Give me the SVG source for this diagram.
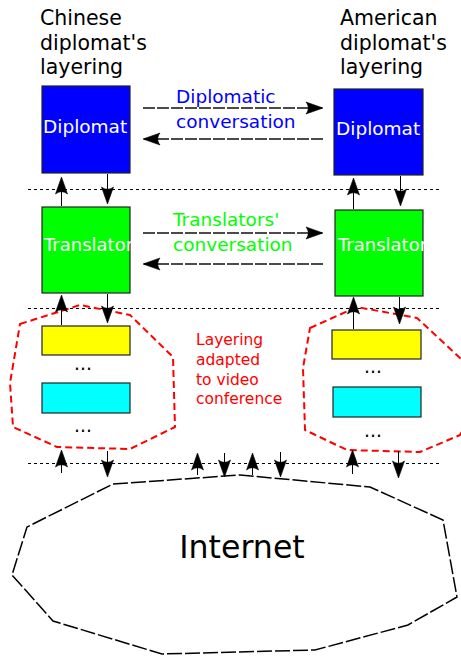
<svg xmlns="http://www.w3.org/2000/svg" width="461" height="657" viewBox="0 0 461 657">
<style>
text{font-family:"DejaVu Sans","Liberation Sans",sans-serif}
.title{font-size:20.5px;fill:#000}
.box{stroke:#222;stroke-width:1.2}
.lbl{font-size:18.5px;fill:#fff}
.dots{font-size:18.7px;fill:#000}
.sep{stroke:#000;stroke-width:1;stroke-dasharray:3,3;fill:none}
.conv{stroke:#111;stroke-width:1.3;stroke-dasharray:12,2;fill:none;marker-end:url(#ah)}
.v{stroke:#000;stroke-width:1;fill:none;marker-end:url(#ah)}
.red{stroke:#ff0000;stroke-width:2;stroke-dasharray:7,4;fill:none;stroke-linejoin:round}
</style>
<defs>
<marker id="ah" markerUnits="userSpaceOnUse" viewBox="-18 -8 20 16" markerWidth="20" markerHeight="16" refX="0" refY="0" orient="auto" preserveAspectRatio="none">
<path d="M1,0 L-16,-6 C-13,-2 -13,2 -16,6 Z" fill="#000" stroke="#000" stroke-width="0.6" stroke-linejoin="round"/>
</marker>
<clipPath id="c1"><rect x="42" y="86" width="89" height="87"/></clipPath>
<clipPath id="c2"><rect x="334" y="89" width="90" height="86"/></clipPath>
<clipPath id="c3"><rect x="42" y="207" width="89" height="86"/></clipPath>
<clipPath id="c4"><rect x="335" y="210" width="89" height="86"/></clipPath>
</defs>

<g id="titles">
<text class="title" x="40" y="25">Chinese</text>
<text class="title" x="40" y="49.5">diplomat's</text>
<text class="title" x="40" y="74">layering</text>
<text class="title" x="340" y="25">American</text>
<text class="title" x="340" y="49.5">diplomat's</text>
<text class="title" x="340" y="74">layering</text>
</g>

<g id="separators">
<line class="sep" x1="28" y1="189.5" x2="440" y2="189.5"/>
<line class="sep" x1="28" y1="308.5" x2="440" y2="308.5"/>
<line class="sep" x1="28" y1="463.5" x2="440" y2="463.5"/>
</g>

<g id="video-conf-left">
<polygon class="red" points="20,324 80,305 130,315 173,357 175,427 130,449 57,447 13,427 10,383"/>
</g>
<g id="video-conf-right">
<polygon class="red" points="310,328 357,307 417,318 460,358 478,400 460,435 420,452 347,450 305,430 303,368"/>
</g>
<g id="video-conf-label">
<text x="196" y="345" font-size="15.5" fill="#ff0000">Layering</text>
<text x="196" y="365" font-size="15.5" fill="#ff0000">adapted</text>
<text x="196" y="384.5" font-size="15.5" fill="#ff0000">to video</text>
<text x="196" y="404" font-size="15.5" fill="#ff0000">conference</text>
</g>

<g id="cn-diplomat">
<rect class="box" x="42" y="86" width="88" height="87" fill="#0000ff"/>
<text class="lbl" x="43" y="133" clip-path="url(#c1)">Diplomat</text>
</g>
<g id="us-diplomat">
<rect class="box" x="334" y="89" width="89" height="86" fill="#0000ff"/>
<text class="lbl" x="336" y="135" clip-path="url(#c2)">Diplomat</text>
</g>
<g id="cn-translator">
<rect class="box" x="42" y="207" width="88" height="86" fill="#00ff00"/>
<text class="lbl" x="44" y="251" style="font-size:18px" clip-path="url(#c3)">Translator</text>
</g>
<g id="us-translator">
<rect class="box" x="335" y="210" width="88" height="86" fill="#00ff00"/>
<text class="lbl" x="338" y="251" style="font-size:18px" clip-path="url(#c4)">Translator</text>
</g>
<g id="cn-lower">
<rect class="box" x="42" y="326" width="88" height="29" fill="#ffff00"/>
<text class="dots" x="74" y="370">...</text>
<rect class="box" x="42" y="383" width="88" height="30" fill="#00ffff"/>
<text class="dots" x="74" y="432">...</text>
</g>
<g id="us-lower">
<rect class="box" x="332" y="330" width="89" height="29" fill="#ffff00"/>
<text class="dots" x="364" y="373">...</text>
<rect class="box" x="333" y="387" width="88" height="30" fill="#00ffff"/>
<text class="dots" x="364" y="437">...</text>
</g>

<g id="internet">
<polygon points="113,484 240,475 370,487 443,520 457,597 408,625 315,650 162,654 53,621 12,575 27,527" fill="none" stroke="#000" stroke-width="1.5" stroke-dasharray="15,3"/>
<text x="242" y="558" font-size="31.6" text-anchor="middle" fill="#000">Internet</text>
</g>

<g id="conversation-labels">
<text x="176" y="103" font-size="18.5" fill="#0000ff">Diplomatic</text>
<text x="176" y="128" font-size="18.5" fill="#0000ff">conversation</text>
<text x="173" y="226" font-size="18.5" fill="#00ff00">Translators'</text>
<text x="173" y="251" font-size="18.5" fill="#00ff00">conversation</text>
</g>

<g id="connectors">
<line class="conv" x1="143" y1="108" x2="322" y2="108"/>
<line class="conv" x1="323" y1="139" x2="144" y2="139"/>
<line class="conv" x1="143" y1="233" x2="322" y2="233"/>
<line class="conv" x1="323" y1="264" x2="144" y2="264"/>

<line class="v" x1="61.5" y1="206" x2="61.5" y2="178"/>
<line class="v" x1="107.5" y1="174" x2="107.5" y2="203"/>
<line class="v" x1="61.5" y1="325" x2="61.5" y2="296"/>
<line class="v" x1="107.5" y1="294" x2="107.5" y2="322"/>
<line class="v" x1="61.5" y1="473" x2="61.5" y2="451"/>
<line class="v" x1="107.5" y1="451" x2="107.5" y2="476"/>

<line class="v" x1="353.5" y1="209" x2="353.5" y2="179"/>
<line class="v" x1="400.5" y1="176" x2="400.5" y2="205"/>
<line class="v" x1="353.5" y1="329" x2="353.5" y2="298"/>
<line class="v" x1="399.5" y1="297" x2="399.5" y2="323"/>
<line class="v" x1="352.5" y1="474" x2="352.5" y2="451"/>
<line class="v" x1="398.5" y1="451" x2="398.5" y2="477"/>

<line class="v" x1="197.5" y1="475" x2="197.5" y2="454"/>
<line class="v" x1="224.5" y1="453" x2="224.5" y2="476"/>
<line class="v" x1="252.5" y1="475" x2="252.5" y2="454"/>
<line class="v" x1="280.5" y1="452" x2="280.5" y2="476"/>
</g>
</svg>
